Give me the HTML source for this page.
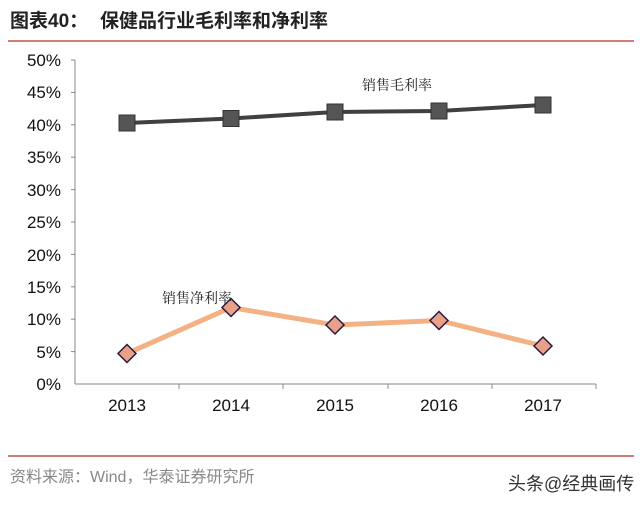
<!DOCTYPE html><html><head><meta charset="utf-8"><style>
body{margin:0;background:#fff;width:640px;height:508px;overflow:hidden;font-family:"Liberation Sans","Noto Sans CJK SC",sans-serif}
</style></head><body>
<svg width="640" height="508" xmlns="http://www.w3.org/2000/svg" font-family="Liberation Sans, Noto Sans CJK SC, sans-serif">
<text x="10" y="27" font-size="19" font-weight="bold" fill="#222">图表40：</text>
<text x="100" y="27" font-size="19" font-weight="bold" fill="#222">保健品行业毛利率和净利率</text>
<line x1="8" y1="41" x2="634" y2="41" stroke="#c0504d" stroke-width="1.5"/>
<g font-size="17" fill="#111" text-anchor="end">
<text x="61" y="66">50%</text><text x="61" y="98">45%</text><text x="61" y="131">40%</text><text x="61" y="163">35%</text><text x="61" y="196">30%</text><text x="61" y="228">25%</text><text x="61" y="261">20%</text><text x="61" y="293">15%</text><text x="61" y="325">10%</text><text x="61" y="358">5%</text><text x="61" y="390">0%</text>
</g>
<g stroke="#888" stroke-width="1">
<line x1="75" y1="60" x2="75" y2="384"/>
<line x1="75" y1="384" x2="596" y2="384"/>
<line x1="71" y1="60" x2="75" y2="60"/><line x1="71" y1="92.4" x2="75" y2="92.4"/><line x1="71" y1="124.8" x2="75" y2="124.8"/><line x1="71" y1="157.2" x2="75" y2="157.2"/><line x1="71" y1="189.6" x2="75" y2="189.6"/><line x1="71" y1="222" x2="75" y2="222"/><line x1="71" y1="254.4" x2="75" y2="254.4"/><line x1="71" y1="286.8" x2="75" y2="286.8"/><line x1="71" y1="319.2" x2="75" y2="319.2"/><line x1="71" y1="351.6" x2="75" y2="351.6"/>
<line x1="179" y1="384" x2="179" y2="389"/><line x1="283" y1="384" x2="283" y2="389"/><line x1="388" y1="384" x2="388" y2="389"/><line x1="492" y1="384" x2="492" y2="389"/><line x1="596" y1="384" x2="596" y2="389"/>
</g>
<g font-size="17" fill="#111" text-anchor="middle">
<text x="127" y="411">2013</text><text x="231" y="411">2014</text><text x="335" y="411">2015</text><text x="439" y="411">2016</text><text x="543" y="411">2017</text>
</g>
<polyline points="127,123 231,118.5 335,112 439,111 543,105" fill="none" stroke="#404040" stroke-width="4"/>
<g fill="#555" stroke="#333" stroke-width="1">
<rect x="119" y="115" width="16" height="16"/><rect x="223" y="110.5" width="16" height="16"/><rect x="327" y="104" width="16" height="16"/><rect x="431" y="103" width="16" height="16"/><rect x="535" y="97" width="16" height="16"/>
</g>
<polyline points="127,353.5 231,307.5 335,325 439,320.5 543,346" fill="none" stroke="#f4b183" stroke-width="5"/>
<g fill="#e8a088" stroke="#2a1a40" stroke-width="1.5">
<polygon points="127,344.5 136,353.5 127,362.5 118,353.5"/><polygon points="231,298.5 240,307.5 231,316.5 222,307.5"/><polygon points="335,316 344,325 335,334 326,325"/><polygon points="439,311.5 448,320.5 439,329.5 430,320.5"/><polygon points="543,337 552,346 543,355 534,346"/>
</g>
<text x="362" y="90" font-size="14" fill="#222" font-family="Noto Serif CJK SC, serif">销售毛利率</text>
<text x="162" y="303" font-size="14" fill="#222" font-family="Noto Serif CJK SC, serif">销售净利率</text>
<line x1="8" y1="456" x2="634" y2="456" stroke="#c0504d" stroke-width="1.5"/>
<text x="10" y="482" font-size="16" fill="#888">资料来源：Wind，华泰证券研究所</text>
<text x="508" y="490" font-size="18" fill="#333">头条@经典画传</text>
</svg>
</body></html>
